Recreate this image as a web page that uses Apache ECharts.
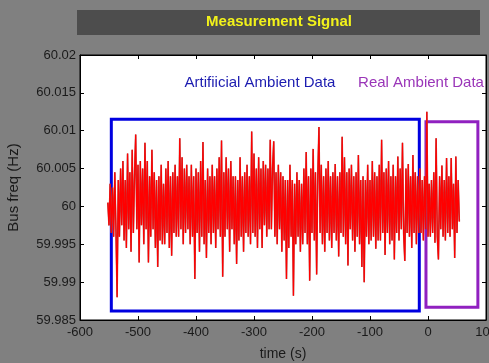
<!DOCTYPE html>
<html>
<head>
<meta charset="utf-8">
<script src="https://cdn.jsdelivr.net/npm/echarts@6/dist/echarts.min.js"></script>
<style>
html,body{margin:0;padding:0;background:#808080;}
#chart{width:489px;height:363px;}
</style>
</head>
<body>
<div id="chart"></div>
<script>
// Sampling of the signal (seconds)
const startTime = -552;
const timeStep = 2;
// Frequency deviation from 60 Hz, in mHz
const freqDevMHz = [
  0.5, -2.5, 3.0, -3.5, 2.5, -4.0, 4.5, -3.0, -12.0, 3.5,
  -4.0, 5.0, -2.5, 6.0, -4.5, 3.5, -5.5, 7.0, -3.0, 4.5,
  -6.0, 7.5, -3.5, 4.0, 9.5, -3.0, 5.5, -7.4, 6.0, -2.5,
  5.0, -5.0, 8.4, -3.0, 6.0, -7.4, 4.0, -4.0, 7.5, -3.0,
  4.5, -5.5, 3.5, -8.0, 4.0, -4.5, 5.5, -5.0, 3.0, -5.0,
  5.0, -3.5, 6.0, -5.5, 4.0, -6.5, 4.5, -3.5, 5.5, -4.0,
  4.0, -4.0, 9.0, -3.0, 6.5, -5.0, 5.0, -3.5, 5.5, -3.0,
  4.0, -5.0, 5.5, -4.0, 4.0, -9.6, 5.0, -3.5, 4.5, -6.0,
  6.0, -4.0, 8.5, -5.0, 3.5, -6.8, 5.0, -3.5, 4.0, -5.0,
  5.5, -3.5, 4.0, -5.5, 5.0, -3.0, 6.5, -4.0, 8.7, -9.3,
  4.5, -4.0, 6.5, -3.0, 5.0, -6.0, 6.0, -3.0, 4.0, -5.0,
  4.0, -7.6, 3.5, -4.5, 6.5, -4.0, 4.0, -6.0, 4.5, -3.5,
  5.5, -4.0, 4.0, -5.0, 9.9, -3.5, 7.0, -4.0, 5.0, -5.5,
  6.5, -3.0, 5.0, -5.5, 6.0, -2.5, 5.5, -4.0, 5.0, -3.0,
  8.8, -3.0, 5.0, 8.6, -4.0, 4.5, -5.0, 5.5, -3.0, 4.5,
  -6.0, 4.0, -4.5, 3.5, -9.6, 3.5, -5.5, 5.5, -4.0, 3.5,
  -11.8, 3.0, -5.0, 4.5, -4.0, 3.5, -6.0, 3.0, -5.0, 5.0,
  -3.5, 7.2, -5.0, 4.0, -9.8, 5.0, -3.5, 7.6, -4.5, 4.5,
  -9.0, 4.0, 10.5, -3.5, 5.5, -5.0, 4.0, -6.0, 5.0, -3.5,
  6.0, -4.5, 4.0, -5.5, 4.5, -3.5, 5.6, -4.5, 4.0, -6.6,
  4.5, -3.5, 9.2, -4.0, 6.5, -5.0, 4.5, -7.8, 5.0, -3.0,
  5.5, -4.5, 4.0, -6.0, 4.5, -4.0, 6.8, -5.0, 3.5, -8.0,
  4.0, -10.0, 3.5, -4.0, 5.5, -5.0, 3.5, -4.5, 6.0, -4.0,
  4.5, -5.6, 4.0, -4.5, 5.5, -4.5, 8.8, -3.5, 4.5, -6.4,
  5.0, -3.5, 6.0, -5.0, 4.0, -4.5, 5.5, -7.0, 4.0, -3.5,
  6.6, -4.5, 5.0, -3.0, 8.4, -3.5, -7.2, 5.0, -3.5, 5.6,
  -4.0, 4.0, -5.5, 6.8, -3.5, 4.5, -5.0, 4.0, -3.5, 5.0,
  -3.5, 3.5, -4.5, 4.0, -3.0, 12.5, -4.0, 3.0, -4.0, 3.5,
  -3.5, 4.5, -4.8, 9.0, -4.0, -7.0, 4.0, -3.0, 5.4, -4.0,
  3.5, -4.5, 6.4, -3.5, 4.0, -4.0, 6.4, -3.0, 3.0, -6.8,
  6.6, -3.5, 3.5, -2.0
];
// Boxes marking the two data regions [x0, y0, x1, y1]
const artificialBox = [-546, 60.0115, -15, 59.9862];
const realBox = [-3.5, 60.0112, 86, 59.9867];
const yTicks = [59.985, 60.02, 0.005];
const xTicks = [-600, 100, 100];

const signal = freqDevMHz.map((d, i) => [startTime + i * timeStep, 60 + d / 1000]);

const chart = echarts.init(document.getElementById('chart'), null, {renderer: 'canvas'});
const axisFont = {fontFamily: 'Liberation Sans, Arial, sans-serif', fontSize: 13, color: '#1a1a1a'};
const nameFont = {fontFamily: 'Liberation Sans, Arial, sans-serif', fontSize: 14, color: '#1a1a1a'};
const inTick = {show: true, inside: true, length: 4, lineStyle: {color: '#000', width: 1}};
const blackLine = {show: true, onZero: false, lineStyle: {color: '#000', width: 1}};
chart.setOption({
  backgroundColor: '#808080',
  animation: false,
  grid: {left: 80, right: 3, top: 55, bottom: 43, outerBoundsMode: 'none', containLabel: false,
         show: true, backgroundColor: '#ffffff', borderColor: '#000', borderWidth: 1},
  xAxis: [{
    type: 'value', min: xTicks[0], max: xTicks[1], interval: xTicks[2],
    name: 'time (s)', nameLocation: 'middle', nameGap: 27, nameTextStyle: nameFont,
    axisLine: blackLine, axisTick: inTick,
    axisLabel: Object.assign({margin: 6}, axisFont), splitLine: {show: false}
  }, {
    type: 'value', position: 'top', min: xTicks[0], max: xTicks[1], interval: xTicks[2],
    axisLine: blackLine, axisTick: inTick,
    axisLabel: {show: false}, splitLine: {show: false}
  }],
  yAxis: [{
    type: 'value', min: yTicks[0], max: yTicks[1], interval: yTicks[2],
    name: 'Bus freq (Hz)', nameLocation: 'middle', nameGap: 59, nameTextStyle: {fontFamily: 'Liberation Sans, Arial, sans-serif', fontSize: 15, color: '#1a1a1a'},
    axisLine: blackLine, axisTick: inTick,
    axisLabel: Object.assign({margin: 4, formatter: v => String(parseFloat(v.toFixed(3)))}, axisFont),
    splitLine: {show: false}
  }, {
    type: 'value', position: 'right', min: yTicks[0], max: yTicks[1], interval: yTicks[2],
    axisLine: blackLine, axisTick: inTick,
    axisLabel: {show: false}, splitLine: {show: false}
  }],
  series: [{
    type: 'line', data: signal, showSymbol: false, symbol: 'none',
    lineStyle: {color: '#a85050', width: 1.6}, z: 2,
    markArea: {
      silent: true,
      data: [
        [{coord: [artificialBox[0], artificialBox[1]], itemStyle: {color: 'rgba(0,0,0,0)', borderColor: '#0000e0', borderWidth: 3}},
         {coord: [artificialBox[2], artificialBox[3]]}],
        [{coord: [realBox[0], realBox[1]], itemStyle: {color: 'rgba(0,0,0,0)', borderColor: '#9020c0', borderWidth: 3}},
         {coord: [realBox[2], realBox[3]]}]
      ]
    }
  }, {
    type: 'line', data: signal, showSymbol: false, symbol: 'none',
    lineStyle: {color: '#ff0000', width: 1.2}, z: 3
  }],
  graphic: [
    {type: 'rect', shape: {x: 77, y: 10, width: 403, height: 25}, style: {fill: '#4d4d4d'}},
    {type: 'text', x: 279, y: 22, style: {text: 'Measurement Signal', fill: '#f2f21a', font: 'bold 15px Liberation Sans, Arial, sans-serif', align: 'center', verticalAlign: 'middle'}},
    {type: 'text', x: 260, y: 83, z: 10, style: {text: 'Artifiicial Ambient Data', fill: '#1c1cb0', font: '15px Liberation Sans, Arial, sans-serif', align: 'center', verticalAlign: 'middle'}},
    {type: 'text', x: 421, y: 83, z: 10, style: {text: 'Real Ambient Data', fill: '#9a35b8', font: '15px Liberation Sans, Arial, sans-serif', align: 'center', verticalAlign: 'middle'}}
  ]
});
</script>
</body>
</html>
